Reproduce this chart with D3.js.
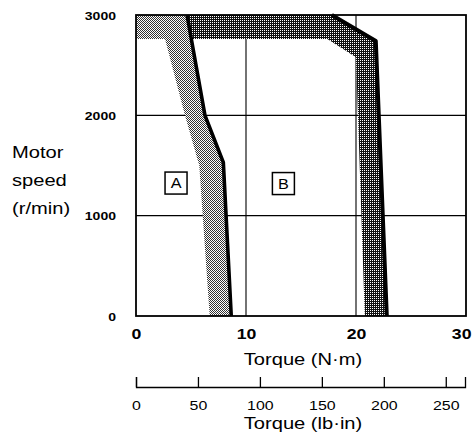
<!DOCTYPE html>
<html><head><meta charset="utf-8">
<script src="https://cdn.jsdelivr.net/npm/d3@7"></script>
<style>html,body{margin:0;padding:0;background:#fff;} svg{display:block;}</style>
</head><body>
<svg id="chart" width="472" height="440"></svg>
<script>
// ---- data ----
const torqueTicks = [0, 10, 20, 30];
const speedTicks = [0, 1000, 2000, 3000];
const lbinTicks = [0, 50, 100, 150, 200, 250];
const torqueMax = 30;
const speedMax = 3000;
const lbinPerNm = 8.8507;

// Region A band (continuous operation): limit line and inner edge
const aLimitTorque = [0, 4.64, 6.27, 7.94, 8.66];
const aLimitSpeed  = [3000, 3000, 2000, 1530, 0];
const aInnerTorque = [0, 2.64, 4.45, 5.75, 6.7];
const aInnerSpeed  = [2760, 2760, 2000, 1500, 0];
// Region B band (repeated operation): outer limit and inner edge
const bOuterTorque = [4.64, 17.8, 21.8, 22.8];
const bOuterSpeed  = [3000, 3000, 2740, 0];
const bInnerTorque = [5.0, 17.4, 20.0, 20.8];
const bInnerSpeed  = [2760, 2760, 2580, 0];

const regionNames  = ["A", "B"];
const regionTorque = [3.64, 13.4];
const regionSpeed  = [1325, 1320];

const yLabelLines = ["Motor", "speed", "(r/min)"];
const xTitle = "Torque (N\u00b7m)";
const x2Title = "Torque (lb\u00b7in)";

// ---- layout ----
const FONT = "'Liberation Sans', Arial, Helvetica, sans-serif";
const SX = 1.22;
const svg = d3.select("#chart");
svg.append("rect").attr("width", 472).attr("height", 440).attr("fill", "#fff");

const x = d3.scaleLinear([0, torqueMax], [136, 466]);
const y = d3.scaleLinear([0, speedMax], [316, 15]);
const xLb = d3.scaleLinear([0, torqueMax * lbinPerNm], [136, 465]);

const defs = svg.append("defs");
const pl = defs.append("pattern").attr("id", "light").attr("width", 2).attr("height", 2).attr("patternUnits", "userSpaceOnUse");
pl.append("rect").attr("width", 2).attr("height", 2).attr("fill", "#fff");
pl.append("rect").attr("x", 0).attr("y", 0).attr("width", 1).attr("height", 1).attr("fill", "#333");
pl.append("rect").attr("x", 1).attr("y", 1).attr("width", 1).attr("height", 1).attr("fill", "#333");
const pd = defs.append("pattern").attr("id", "dark").attr("width", 2).attr("height", 2).attr("patternUnits", "userSpaceOnUse");
pd.append("rect").attr("width", 2).attr("height", 2).attr("fill", "#111");
pd.append("rect").attr("x", 0).attr("y", 0).attr("width", 1).attr("height", 1).attr("fill", "#fff");

function txt(parent, px, py, s, size, weight, anchor, sx) {
  const g = parent.append("g").attr("transform", `translate(${px},${py}) scale(${sx},1)`);
  return g.append("text").attr("text-anchor", anchor).attr("font-size", size)
    .attr("font-weight", weight).attr("font-family", FONT).attr("fill", "#000").text(s);
}

// grid
const grid = svg.append("g").attr("stroke", "#000").attr("stroke-width", 1.1);
grid.selectAll("line.v").data(torqueTicks.filter(t => t > 0 && t < torqueMax)).join("line")
  .attr("x1", d => x(d)).attr("x2", d => x(d)).attr("y1", y(0)).attr("y2", y(speedMax));
grid.selectAll("line.h").data(speedTicks.filter(t => t > 0 && t < speedMax)).join("line")
  .attr("x1", x(0)).attr("x2", x(torqueMax)).attr("y1", d => y(d)).attr("y2", d => y(d));

const line = d3.line().x(d => x(d[0])).y(d => y(d[1]));
const zip = (a, b) => a.map((v, i) => [v, b[i]]);

const aLimit = zip(aLimitTorque, aLimitSpeed);
const aInner = zip(aInnerTorque, aInnerSpeed);
const bOuter = zip(bOuterTorque, bOuterSpeed);
const bInner = zip(bInnerTorque, bInnerSpeed);

// bands
svg.append("path").attr("d", line(aLimit.concat(aInner.slice().reverse())) + "Z").attr("fill", "url(#light)");
svg.append("path").attr("d", line(bOuter.concat(bInner.slice().reverse())) + "Z").attr("fill", "url(#dark)");
// limit lines
svg.append("path").attr("d", line(aLimit.slice(1))).attr("fill", "none").attr("stroke", "#000").attr("stroke-width", 3.6).attr("stroke-linejoin", "round");
svg.append("path").attr("d", line(bOuter.slice(1))).attr("fill", "none").attr("stroke", "#000").attr("stroke-width", 4).attr("stroke-linejoin", "round");

// frame
svg.append("rect").attr("x", x(0)).attr("y", y(speedMax)).attr("width", x(torqueMax) - x(0)).attr("height", y(0) - y(speedMax))
  .attr("fill", "none").attr("stroke", "#000").attr("stroke-width", 1.8);

// region labels
regionNames.forEach((n, i) => {
  const cx = x(regionTorque[i]), cy = y(regionSpeed[i]);
  svg.append("rect").attr("x", cx - 11).attr("y", cy - 11).attr("width", 22).attr("height", 22)
    .attr("fill", "#fff").attr("stroke", "#000").attr("stroke-width", 1.5);
  txt(svg, cx, cy, n, 15, "normal", "middle", 1.08).attr("dy", "0.36em");
});

// y axis
const yAx = svg.append("g").attr("transform", "translate(116,0)")
  .call(d3.axisLeft(y).tickValues(speedTicks).tickSize(0).tickPadding(0).tickFormat(d3.format("d")));
yAx.select(".domain").remove();
yAx.selectAll("text").attr("font-size", 11.5).attr("font-weight", "bold").attr("font-family", FONT)
  .attr("fill", "#000").attr("dy", "0.36em").attr("transform", `scale(${SX},1)`);

// x axis (N·m)
const xAx = svg.append("g").attr("transform", `translate(0,${y(0)})`)
  .call(d3.axisBottom(x).tickValues(torqueTicks).tickSize(0).tickPadding(12.5).tickFormat(d3.format("d")));
xAx.select(".domain").remove();
xAx.selectAll("text").attr("font-size", 14.5).attr("font-weight", "bold").attr("font-family", FONT)
  .attr("fill", "#000").attr("transform", `scale(${SX},1)`);
// keep the last label inside the picture
xAx.selectAll(".tick").filter(d => d === torqueMax).select("text")
  .attr("text-anchor", "end").attr("x", 5 / SX);

// x axis (lb·in)
const x2Ax = svg.append("g").attr("transform", "translate(0,387)")
  .call(d3.axisBottom(xLb).tickValues(lbinTicks).tickSizeInner(-10).tickSizeOuter(-10).tickPadding(13).tickFormat(d3.format("d")));
x2Ax.selectAll("path,line").attr("stroke", "#000").attr("stroke-width", 1.3);
x2Ax.selectAll("text").attr("font-size", 13.5).attr("font-family", FONT)
  .attr("fill", "#000").attr("transform", `scale(1.18,1)`);

// titles
txt(svg, 303, 365, xTitle, 16.5, "normal", "middle", SX);
txt(svg, 303, 429, x2Title, 16.5, "normal", "middle", SX);
yLabelLines.forEach((s, i) => txt(svg, 12, 158 + i * 28, s, 16.5, "normal", "start", SX));
</script>
</body></html>
